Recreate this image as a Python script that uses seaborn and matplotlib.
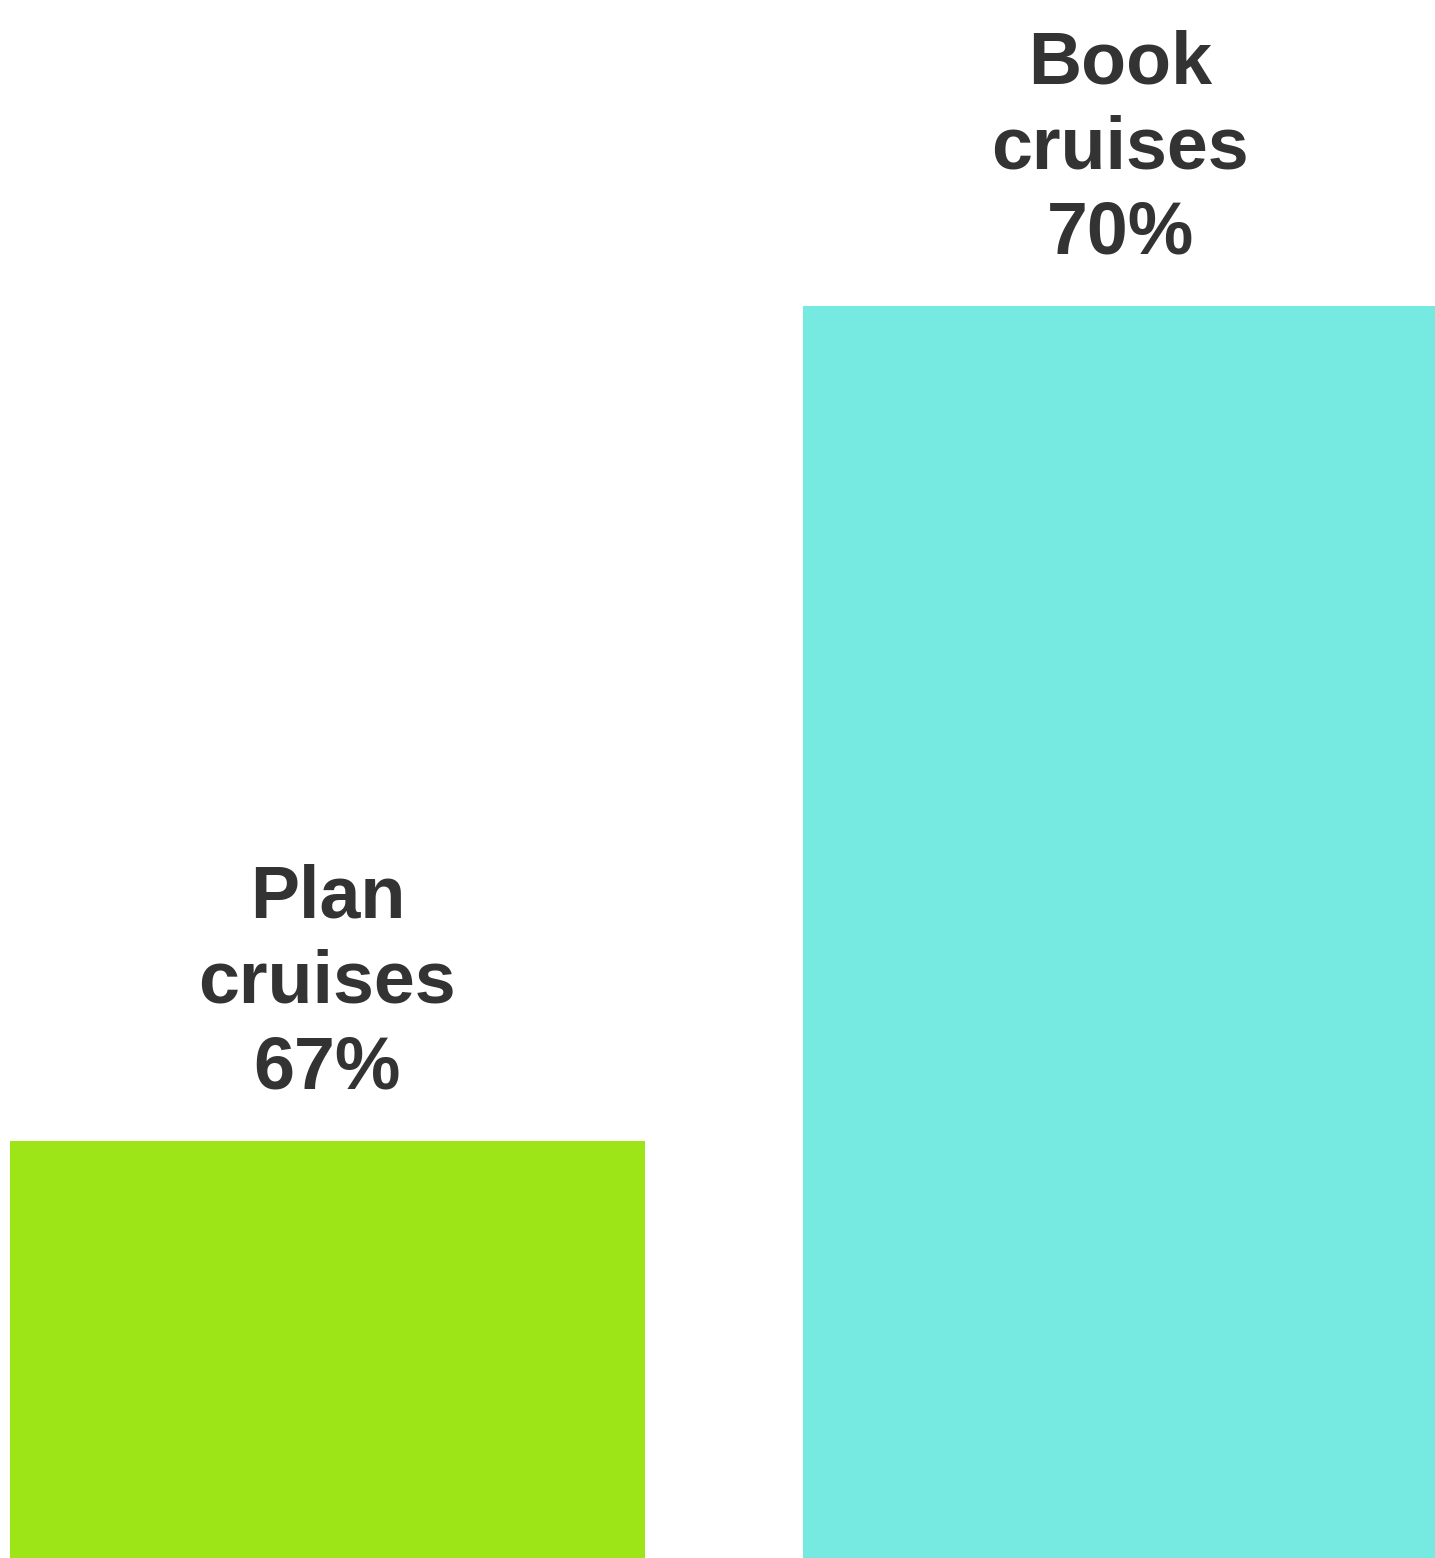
import matplotlib
matplotlib.use("Agg")
import matplotlib.pyplot as plt
import seaborn as sns
import pandas as pd

# Share of travellers who use the channel for each cruise activity
categories = ["Plan cruises", "Book cruises"]
values = [67, 70]
label_lines = ["Plan\ncruises", "Book\ncruises"]
colors = ["#9EE517", "#76E9E1"]

sns.set_theme(style="white")
plt.rcParams["font.family"] = ["Liberation Sans", "DejaVu Sans"]

df = pd.DataFrame({"activity": categories, "share": values})

fig = plt.figure(figsize=(14.35, 15.58), dpi=100)
ax = fig.add_axes([0, 0, 1, 1])
sns.barplot(data=df, x="activity", y="share", hue="activity",
            palette=colors, width=0.8, legend=False, ax=ax,
            saturation=1, linewidth=0)

ax.set_xlim(-0.413, 1.397)
ax.set_ylim(65.5, 71.1)
ax.axis("off")

texts = [f"{name}\n{v}%" for name, v in zip(label_lines, values)]
for i, bar_cont in enumerate(ax.containers):
    ax.bar_label(bar_cont, labels=[texts[i]], padding=27,
                 fontsize=53, fontweight="bold", color="#333333",
                 linespacing=1.3, multialignment="center")

fig.savefig("out.png", dpi=100, facecolor="white")
